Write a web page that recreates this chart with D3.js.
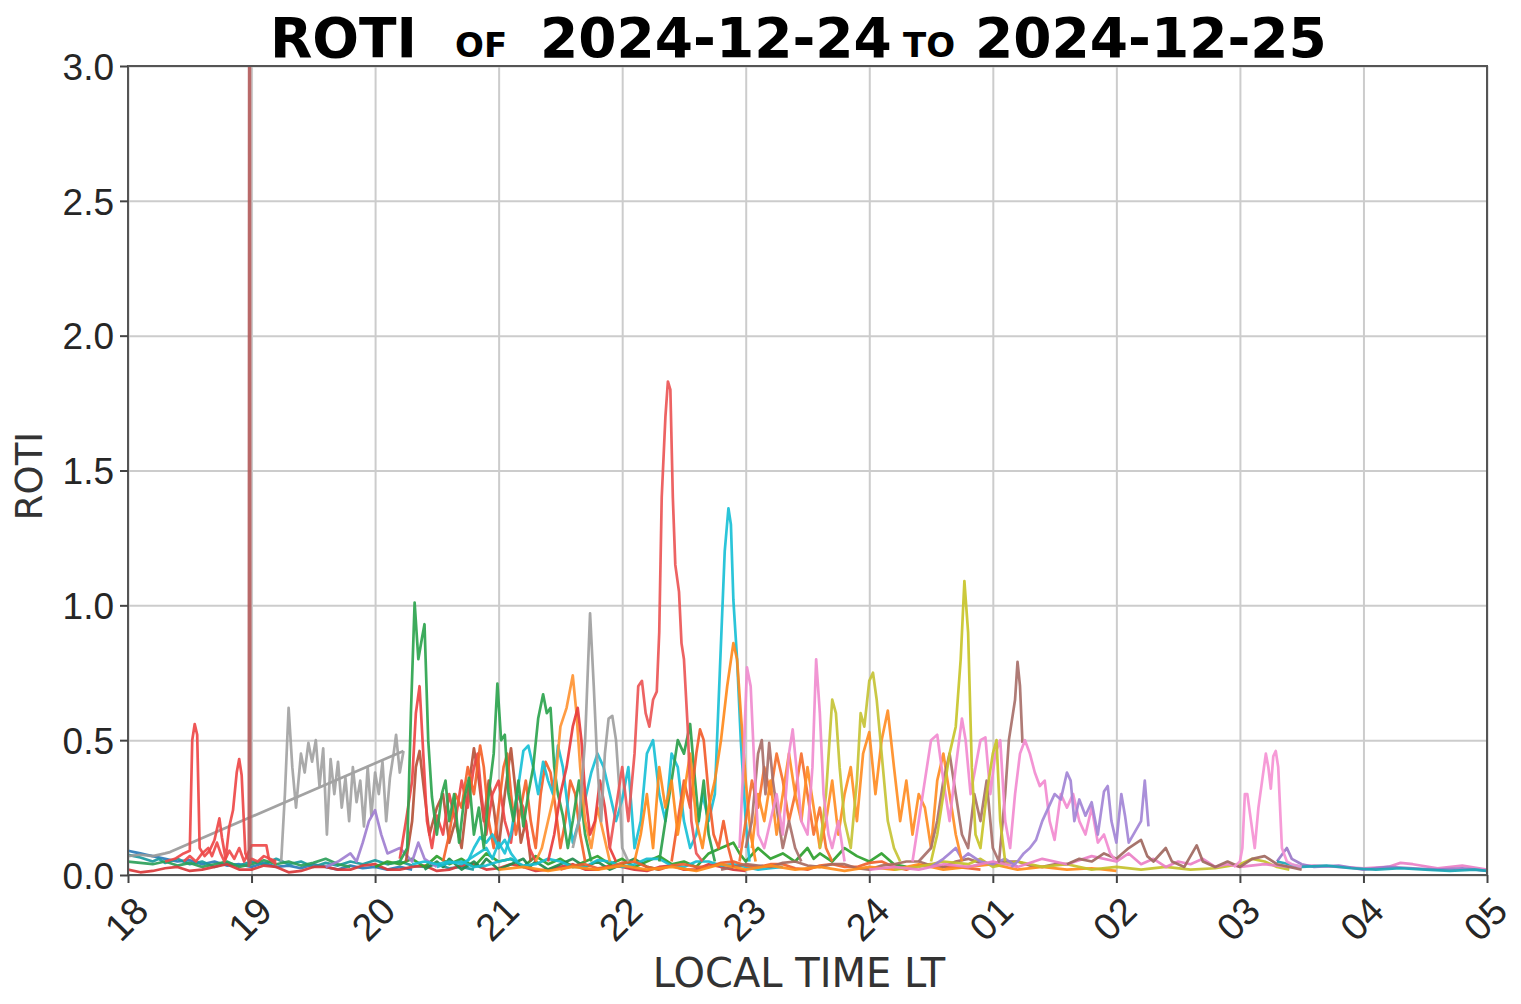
<!DOCTYPE html>
<html>
<head>
<meta charset="utf-8">
<script src="https://cdn.jsdelivr.net/npm/d3@7"></script>
<style>
body { margin: 0; background: #fff; }
svg { display: block; font-family: 'DejaVu Sans', sans-serif; }
</style>
</head>
<body>
<svg width="1521" height="1004"></svg>
<script>
// axis ticks
var xTicks = [18, 19, 20, 21, 22, 23, 24, 25, 26, 27, 28, 29]
var xTickLabels = ['18', '19', '20', '21', '22', '23', '24', '01', '02', '03', '04', '05']
var yTicks = [0, 0.5, 1.0, 1.5, 2.0, 2.5, 3.0]

// ROTI traces, [local hour, roti]
var baseBlue = [[18.0,0.09],[18.05,0.085],[18.1,0.08],[18.15,0.075],[18.2,0.07],[18.3,0.06],[18.4,0.05],[18.5,0.055],[18.6,0.04],[18.7,0.05],[18.8,0.035],[18.9,0.04],[19.0,0.03],[19.1,0.045],[19.2,0.03],[19.3,0.035],[19.4,0.025],[19.5,0.04],[19.6,0.03],[19.7,0.02],[19.8,0.035],[19.9,0.025],[20.0,0.03],[20.1,0.02],[20.2,0.03],[20.3,0.02]]
var baseTeal = [[18.0,0.075],[18.05,0.07],[18.1,0.065],[18.2,0.05],[18.25,0.06],[18.3,0.045],[18.4,0.06],[18.5,0.04],[18.6,0.05],[18.7,0.03],[18.8,0.045],[18.9,0.035],[19.0,0.05],[19.1,0.04],[19.2,0.06],[19.3,0.04],[19.4,0.05],[19.5,0.03],[19.6,0.045],[19.7,0.035],[19.8,0.05],[19.9,0.04],[20.0,0.055],[20.1,0.04],[20.2,0.05],[20.3,0.035],[20.4,0.03],[20.5,0.04],[20.6,0.025],[20.7,0.03],[20.8,0.02]]
var baseGreen = [[18.0,0.05],[18.1,0.045],[18.2,0.04],[18.3,0.05],[18.4,0.035],[18.5,0.045],[18.6,0.03],[18.7,0.04],[18.8,0.05],[18.9,0.03],[19.0,0.04],[19.1,0.055],[19.2,0.04],[19.3,0.05],[19.4,0.035],[19.5,0.045],[19.6,0.06],[19.7,0.04],[19.8,0.03]]
var baseRed = [[18.0,0.02],[18.1,0.01],[18.2,0.015],[18.3,0.025],[18.4,0.03],[18.5,0.015],[18.6,0.02],[18.7,0.03],[18.8,0.04],[18.9,0.02],[19.0,0.02],[19.1,0.035],[19.2,0.03],[19.3,0.01],[19.4,0.015],[19.5,0.03],[19.6,0.03],[19.7,0.02],[19.8,0.02],[19.9,0.035],[20.0,0.04],[20.1,0.02],[20.2,0.02],[20.3,0.03],[20.4,0.035],[20.5,0.015],[20.6,0.02],[20.7,0.035],[20.8,0.04],[20.9,0.02],[21.0,0.025],[21.1,0.04],[21.2,0.03],[21.3,0.015],[21.4,0.02],[21.5,0.03],[21.6,0.04],[21.7,0.02],[21.8,0.02],[21.9,0.035],[22.0,0.03],[22.1,0.02],[22.2,0.015],[22.3,0.03],[22.4,0.035],[22.5,0.02],[22.6,0.02],[22.7,0.04],[22.8,0.03],[22.9,0.02],[23.0,0.015]]
var baseGreen2 = [[20.0,0.03],[20.1,0.05],[20.2,0.04],[20.3,0.06],[20.4,0.03],[20.5,0.07],[20.6,0.04],[20.7,0.06],[20.8,0.03],[20.9,0.08],[21.0,0.05],[21.1,0.06],[21.2,0.03],[21.3,0.07],[21.4,0.04],[21.5,0.06],[21.6,0.03],[21.7,0.05],[21.8,0.07],[21.9,0.04],[22.0,0.06],[22.1,0.03],[22.2,0.05],[22.3,0.07],[22.4,0.04],[22.5,0.05],[22.6,0.03],[22.7,0.08],[22.8,0.1],[22.9,0.12],[22.95,0.08],[23.0,0.05],[23.1,0.1],[23.2,0.06],[23.3,0.08],[23.4,0.05],[23.5,0.1],[23.55,0.06],[23.6,0.08],[23.7,0.05],[23.8,0.1],[23.9,0.07],[24.0,0.05],[24.1,0.08],[24.2,0.04],[24.3,0.03]]
var baseGreen3 = [[20.4,0.02],[20.5,0.05],[20.55,0.03],[20.6,0.06],[20.65,0.04],[20.7,0.02],[20.8,0.05],[20.85,0.03],[20.9,0.06],[21.0,0.02],[21.1,0.04],[21.2,0.06],[21.25,0.03],[21.3,0.05],[21.4,0.02],[21.5,0.04],[21.6,0.06],[21.7,0.03],[21.8,0.05],[21.9,0.02],[22.0,0.04],[22.1,0.06],[22.2,0.03],[22.3,0.02]]
var baseCyan = [[20.5,0.03],[20.6,0.045],[20.7,0.05],[20.8,0.03],[20.9,0.035],[21.0,0.05],[21.1,0.06],[21.2,0.035],[21.3,0.04],[21.4,0.06],[21.5,0.05],[21.6,0.03],[21.7,0.03],[21.8,0.055],[21.9,0.05],[22.0,0.03],[22.1,0.04],[22.2,0.06],[22.3,0.06],[22.4,0.035],[22.5,0.03],[22.6,0.05],[22.7,0.05],[22.8,0.035],[22.9,0.04],[23.0,0.03],[23.1,0.02],[23.2,0.025],[23.3,0.03]]
var baseVerm = [[21.5,0.02],[21.6,0.035],[21.7,0.04],[21.8,0.025],[21.9,0.03],[22.0,0.045],[22.1,0.05],[22.2,0.03],[22.3,0.02],[22.4,0.035],[22.5,0.04],[22.6,0.03],[22.7,0.03],[22.8,0.045],[22.9,0.05],[23.0,0.035],[23.1,0.03],[23.2,0.04],[23.3,0.04],[23.4,0.025],[23.5,0.02],[23.6,0.035],[23.7,0.04],[23.8,0.03],[23.9,0.03],[24.0,0.045],[24.1,0.05],[24.2,0.03],[24.3,0.02],[24.4,0.035],[24.5,0.04],[24.6,0.03],[24.7,0.03],[24.8,0.025],[24.9,0.02]]
var baseBrown = [[22.8,0.02],[22.9,0.03],[23.0,0.04],[23.1,0.035],[23.2,0.03],[23.3,0.045],[23.4,0.05],[23.5,0.035],[23.6,0.03],[23.7,0.04],[23.8,0.04],[23.9,0.025],[24.0,0.02],[24.1,0.035],[24.2,0.04],[24.3,0.05],[24.4,0.05],[24.5,0.035],[24.6,0.03],[24.7,0.05],[24.8,0.06],[24.9,0.045],[25.0,0.04],[25.1,0.05],[25.2,0.05],[25.3,0.035],[25.4,0.03],[25.5,0.04],[25.6,0.04]]
var purpleLow = [[24.5,0.03],[24.6,0.06],[24.65,0.08],[24.7,0.1],[24.75,0.06],[24.8,0.08],[24.9,0.05],[25.0,0.04],[25.1,0.06],[25.2,0.03]]
var baseOrange = [[21.0,0.02],[21.2,0.03],[21.4,0.015],[21.6,0.03],[21.8,0.02],[22.0,0.035],[22.2,0.02],[22.4,0.03],[22.6,0.015],[22.8,0.04],[23.0,0.02],[23.2,0.035],[23.4,0.02],[23.6,0.03],[23.8,0.015],[24.0,0.03],[24.2,0.02],[24.4,0.04],[24.6,0.02],[24.8,0.03],[25.0,0.04],[25.2,0.02],[25.4,0.03],[25.6,0.02],[25.8,0.025],[26.0,0.015]]
var baseOlive = [[24.2,0.02],[24.4,0.03],[24.6,0.05],[24.8,0.04],[24.9,0.06],[25.0,0.03],[25.2,0.05],[25.4,0.03],[25.6,0.04],[25.8,0.02],[26.0,0.03],[26.2,0.02],[26.4,0.03],[26.6,0.02],[26.8,0.025],[27.0,0.04],[27.1,0.06],[27.2,0.05],[27.3,0.03],[27.4,0.02]]
var basePink = [[24.0,0.02],[24.2,0.03],[24.4,0.02],[24.6,0.04],[24.8,0.03],[25.0,0.05],[25.2,0.03],[25.4,0.06],[25.6,0.04],[25.8,0.07],[26.0,0.05],[26.1,0.08],[26.2,0.04],[26.3,0.06],[26.4,0.03],[26.5,0.05],[26.6,0.04],[26.7,0.06],[26.8,0.03],[26.9,0.04],[27.0,0.03],[27.2,0.04],[27.4,0.03],[27.6,0.035],[27.8,0.03],[28.0,0.025],[28.2,0.03],[28.3,0.045],[28.4,0.04],[28.6,0.025],[28.8,0.035],[29.0,0.02]]
var basePurple = [[27.3,0.05],[27.38,0.1],[27.42,0.06],[27.5,0.04],[27.6,0.03],[27.8,0.035],[28.0,0.02],[28.2,0.03],[28.4,0.025],[28.6,0.02],[28.8,0.025],[29.0,0.015]]
var baseTeal2 = [[27.3,0.05],[27.4,0.04],[27.5,0.03],[27.7,0.035],[27.9,0.025],[28.1,0.02],[28.3,0.025],[28.5,0.02],[28.7,0.015],[28.9,0.02],[29.0,0.015]]
var brownTail = [[25.6,0.04],[25.7,0.06],[25.8,0.05],[25.9,0.08],[26.0,0.06],[26.1,0.1],[26.2,0.13],[26.25,0.07],[26.3,0.05],[26.4,0.1],[26.45,0.05],[26.55,0.03],[26.65,0.11],[26.7,0.05],[26.8,0.03],[26.9,0.05],[27.0,0.03],[27.1,0.06],[27.2,0.07],[27.3,0.04],[27.5,0.02]]

var grayDiag = [[18.0,0.07],[18.1,0.075],[18.2,0.07],[18.3,0.08],[18.34,0.085],[20.23,0.46]]
var grayEarly = [[19.24,0.05],[19.27,0.3],[19.3,0.62],[19.33,0.4],[19.36,0.25],[19.4,0.45],[19.43,0.38],[19.46,0.49],[19.49,0.42],[19.52,0.5],[19.55,0.33],[19.58,0.47],[19.61,0.15],[19.64,0.43],[19.67,0.3],[19.7,0.42],[19.73,0.25],[19.76,0.36],[19.79,0.2],[19.82,0.4],[19.85,0.27],[19.88,0.35],[19.91,0.18],[19.94,0.4],[19.97,0.22],[20.0,0.38],[20.03,0.3],[20.06,0.42],[20.09,0.2],[20.12,0.36],[20.15,0.45],[20.17,0.52],[20.2,0.38],[20.23,0.46]]
var redEarly = [[18.3,0.05],[18.38,0.06],[18.45,0.08],[18.5,0.09],[18.52,0.5],[18.54,0.56],[18.56,0.52],[18.58,0.1],[18.62,0.07],[18.66,0.09],[18.7,0.13],[18.74,0.21],[18.76,0.14],[18.79,0.06],[18.82,0.18],[18.85,0.24],[18.88,0.38],[18.9,0.43],[18.92,0.37],[18.95,0.08],[18.98,0.05],[19.0,0.06],[19.05,0.05],[19.1,0.07],[19.2,0.05]]
var redZig = [[18.45,0.05],[18.5,0.07],[18.55,0.05],[18.6,0.08],[18.65,0.1],[18.68,0.07],[18.72,0.12],[18.75,0.08],[18.78,0.05],[18.82,0.09],[18.86,0.06],[18.9,0.1],[18.94,0.05],[19.0,0.11],[19.05,0.11],[19.12,0.11],[19.14,0.06],[19.2,0.04]]
var brownSpike = [[18.978,0.03],[18.981,3.4],[18.987,3.4],[18.99,0.04]]
var purpleEarly = [[19.6,0.03],[19.7,0.05],[19.8,0.08],[19.85,0.05],[19.9,0.12],[19.95,0.2],[20.0,0.24],[20.05,0.15],[20.1,0.08],[20.2,0.1],[20.3,0.05],[20.35,0.12],[20.4,0.06],[20.5,0.03]]
var greenA = [[20.1,0.04],[20.2,0.05],[20.26,0.1],[20.29,0.6],[20.32,1.01],[20.35,0.8],[20.38,0.88],[20.4,0.93],[20.43,0.5],[20.46,0.29],[20.5,0.15],[20.54,0.3],[20.57,0.35],[20.6,0.2],[20.64,0.3],[20.68,0.12],[20.72,0.28],[20.76,0.36],[20.8,0.15],[20.84,0.25],[20.88,0.1],[20.92,0.3],[20.96,0.45],[20.99,0.71],[21.02,0.5],[21.05,0.52],[21.08,0.3],[21.12,0.2],[21.16,0.35],[21.2,0.18],[21.24,0.3],[21.28,0.4],[21.32,0.58],[21.36,0.67],[21.39,0.6],[21.42,0.62],[21.45,0.4],[21.48,0.3],[21.52,0.22],[21.56,0.1],[21.6,0.2],[21.65,0.35],[21.7,0.15],[21.75,0.05]]
var redA = [[20.2,0.06],[20.25,0.2],[20.3,0.35],[20.33,0.6],[20.36,0.7],[20.39,0.45],[20.42,0.2],[20.46,0.1],[20.5,0.22],[20.55,0.15],[20.6,0.3],[20.65,0.2],[20.7,0.35],[20.75,0.25],[20.8,0.4],[20.83,0.45],[20.86,0.3],[20.9,0.15],[20.95,0.3],[21.0,0.35],[21.05,0.2],[21.1,0.12],[21.15,0.3],[21.2,0.25],[21.25,0.1],[21.3,0.05]]
var brownRed = [[20.25,0.05],[20.3,0.2],[20.33,0.4],[20.36,0.46],[20.4,0.3],[20.44,0.15],[20.5,0.25],[20.55,0.3],[20.6,0.12],[20.65,0.2],[20.7,0.1],[20.75,0.3],[20.8,0.47],[20.84,0.35],[20.88,0.2],[20.92,0.35],[20.96,0.25],[21.0,0.1],[21.05,0.3],[21.1,0.47],[21.14,0.3],[21.18,0.12],[21.22,0.2],[21.26,0.05]]
var vermA = [[20.55,0.05],[20.6,0.15],[20.65,0.3],[20.7,0.25],[20.75,0.4],[20.8,0.3],[20.85,0.48],[20.88,0.4],[20.92,0.2],[20.96,0.1],[21.0,0.25],[21.04,0.4],[21.07,0.45],[21.1,0.3],[21.14,0.15],[21.18,0.25],[21.22,0.35],[21.26,0.2],[21.3,0.1],[21.34,0.3],[21.38,0.42],[21.42,0.38],[21.46,0.25],[21.5,0.1],[21.54,0.2],[21.58,0.35],[21.62,0.3],[21.66,0.15],[21.7,0.05]]
var cyanB = [[20.75,0.05],[20.8,0.1],[20.85,0.14],[20.9,0.12],[20.95,0.15],[21.0,0.1],[21.05,0.13],[21.1,0.08],[21.15,0.05]]
var cyanA = [[20.3,0.04],[20.4,0.05],[20.5,0.04],[20.6,0.05],[20.7,0.04],[20.8,0.07],[20.9,0.1],[20.95,0.06],[21.0,0.12],[21.05,0.08],[21.1,0.15],[21.15,0.3],[21.2,0.46],[21.24,0.48],[21.28,0.4],[21.32,0.3],[21.36,0.42],[21.4,0.35],[21.44,0.3],[21.48,0.48],[21.52,0.4],[21.56,0.25],[21.6,0.12],[21.65,0.2],[21.7,0.28],[21.75,0.38],[21.8,0.45],[21.85,0.4],[21.9,0.3],[21.95,0.2],[22.0,0.28],[22.05,0.4],[22.1,0.1],[22.15,0.2],[22.2,0.45],[22.25,0.5],[22.3,0.3],[22.35,0.2],[22.4,0.45],[22.45,0.4],[22.5,0.2],[22.55,0.1],[22.6,0.15],[22.65,0.3],[22.7,0.2],[22.75,0.3],[22.79,0.75],[22.83,1.2],[22.86,1.36],[22.88,1.3],[22.9,1.02],[22.93,0.8],[22.96,0.5],[23.0,0.2],[23.03,0.05]]
var orangeA = [[21.3,0.05],[21.35,0.1],[21.4,0.2],[21.45,0.3],[21.5,0.55],[21.55,0.62],[21.6,0.74],[21.63,0.6],[21.66,0.4],[21.7,0.2],[21.75,0.1],[21.8,0.25],[21.85,0.15],[21.9,0.05]]
var redMid = [[21.4,0.05],[21.45,0.15],[21.5,0.3],[21.55,0.4],[21.6,0.55],[21.64,0.62],[21.67,0.5],[21.7,0.3],[21.74,0.15],[21.78,0.2],[21.82,0.35],[21.86,0.25],[21.9,0.1],[21.95,0.05]]
var grayMid = [[21.6,0.1],[21.65,0.2],[21.7,0.5],[21.74,0.97],[21.77,0.7],[21.8,0.4],[21.83,0.2],[21.86,0.45],[21.89,0.58],[21.92,0.59],[21.95,0.5],[21.98,0.3],[22.0,0.1],[22.05,0.05]]
var redBig = [[21.9,0.1],[21.95,0.25],[22.0,0.4],[22.05,0.2],[22.1,0.45],[22.13,0.7],[22.16,0.72],[22.19,0.6],[22.22,0.55],[22.25,0.65],[22.28,0.68],[22.3,0.9],[22.32,1.4],[22.35,1.7],[22.37,1.83],[22.39,1.8],[22.41,1.4],[22.43,1.15],[22.46,1.05],[22.48,0.86],[22.5,0.8],[22.53,0.55],[22.56,0.2],[22.6,0.08],[22.65,0.05]]
var greenB = [[22.3,0.05],[22.35,0.2],[22.4,0.35],[22.45,0.5],[22.5,0.45],[22.55,0.56],[22.58,0.4],[22.62,0.2],[22.66,0.35],[22.7,0.15],[22.75,0.05]]
var vermB = [[22.4,0.05],[22.45,0.2],[22.5,0.35],[22.55,0.25],[22.6,0.45],[22.63,0.54],[22.66,0.5],[22.7,0.3],[22.74,0.15],[22.78,0.1],[22.82,0.2],[22.86,0.1],[22.9,0.03]]
var orangeB = [[22.1,0.05],[22.15,0.15],[22.2,0.3],[22.25,0.1],[22.3,0.4],[22.35,0.25],[22.4,0.35],[22.45,0.15],[22.5,0.3],[22.55,0.45],[22.6,0.2],[22.65,0.1],[22.7,0.25],[22.75,0.35],[22.8,0.5],[22.85,0.7],[22.9,0.86],[22.93,0.8],[22.96,0.6],[23.0,0.35],[23.04,0.15],[23.08,0.05]]
var vermC = [[22.95,0.05],[23.0,0.2],[23.05,0.35],[23.1,0.25],[23.15,0.4],[23.2,0.3],[23.25,0.45],[23.3,0.35],[23.35,0.2],[23.4,0.3],[23.45,0.45],[23.5,0.3],[23.55,0.15],[23.6,0.25],[23.65,0.1],[23.7,0.05]]
var pinkA = [[22.95,0.1],[22.98,0.4],[23.01,0.77],[23.04,0.7],[23.07,0.4],[23.1,0.15],[23.15,0.1],[23.2,0.2],[23.25,0.3],[23.3,0.15],[23.35,0.45],[23.38,0.54],[23.41,0.4],[23.45,0.2],[23.5,0.15],[23.54,0.4],[23.57,0.8],[23.6,0.6],[23.63,0.3],[23.67,0.15],[23.7,0.1],[23.75,0.2],[23.8,0.05]]
var brownA = [[23.0,0.1],[23.05,0.2],[23.1,0.45],[23.13,0.5],[23.16,0.3],[23.19,0.49],[23.22,0.35],[23.25,0.25],[23.3,0.1],[23.35,0.2],[23.4,0.1],[23.45,0.05]]
var orangeC = [[23.05,0.1],[23.1,0.3],[23.15,0.2],[23.2,0.35],[23.25,0.15],[23.3,0.3],[23.35,0.45],[23.4,0.3],[23.45,0.2],[23.5,0.4],[23.55,0.25],[23.6,0.1],[23.65,0.2],[23.7,0.35],[23.75,0.15],[23.8,0.3],[23.85,0.4],[23.9,0.2],[23.95,0.45],[24.0,0.53],[24.05,0.3],[24.1,0.5],[24.15,0.61],[24.2,0.4],[24.25,0.2],[24.3,0.35],[24.35,0.15],[24.4,0.3],[24.45,0.25],[24.5,0.1],[24.55,0.35],[24.6,0.45],[24.65,0.3],[24.7,0.15],[24.75,0.05]]
var oliveA = [[23.6,0.1],[23.65,0.3],[23.7,0.65],[23.73,0.6],[23.76,0.4],[23.8,0.2],[23.85,0.1],[23.9,0.35],[23.93,0.6],[23.96,0.55],[24.0,0.72],[24.03,0.75],[24.06,0.65],[24.1,0.45],[24.15,0.2],[24.2,0.1],[24.25,0.05]]
var brownB = [[24.4,0.05],[24.5,0.1],[24.55,0.2],[24.6,0.35],[24.65,0.45],[24.7,0.3],[24.75,0.15],[24.8,0.1],[24.85,0.3],[24.9,0.2],[24.95,0.35],[25.0,0.1],[25.05,0.05],[25.1,0.3],[25.13,0.5],[25.16,0.59],[25.18,0.65],[25.2,0.79],[25.22,0.7],[25.24,0.49]]
var pinkB = [[24.35,0.05],[24.4,0.2],[24.45,0.35],[24.5,0.5],[24.55,0.52],[24.6,0.35],[24.65,0.2],[24.7,0.4],[24.75,0.58],[24.78,0.5],[24.82,0.3],[24.86,0.4],[24.9,0.5],[24.94,0.51],[24.98,0.3],[25.02,0.45],[25.06,0.5],[25.1,0.2],[25.14,0.1],[25.18,0.3],[25.22,0.45],[25.26,0.5],[25.3,0.45],[25.34,0.38],[25.38,0.33],[25.42,0.35],[25.46,0.2],[25.5,0.13],[25.55,0.3],[25.6,0.25],[25.65,0.3],[25.7,0.2],[25.75,0.15],[25.8,0.25],[25.85,0.12],[25.9,0.15],[25.95,0.08],[26.0,0.05]]
var oliveB = [[24.5,0.05],[24.55,0.15],[24.6,0.3],[24.65,0.45],[24.7,0.55],[24.74,0.8],[24.77,1.09],[24.8,0.9],[24.83,0.4],[24.86,0.15],[24.9,0.1],[24.95,0.3],[25.0,0.45],[25.03,0.5],[25.06,0.2],[25.1,0.05]]
var purpleA = [[25.15,0.03],[25.2,0.05],[25.25,0.08],[25.3,0.1],[25.35,0.13],[25.4,0.2],[25.45,0.25],[25.5,0.3],[25.55,0.28],[25.6,0.38],[25.63,0.35],[25.66,0.2],[25.7,0.28],[25.75,0.22],[25.8,0.27],[25.85,0.15],[25.9,0.31],[25.93,0.33],[25.96,0.2],[26.0,0.12],[26.04,0.3],[26.07,0.22],[26.1,0.12],[26.15,0.16],[26.2,0.2],[26.23,0.35],[26.26,0.18]]
var pinkC = [[26.95,0.03],[27.0,0.05],[27.02,0.1],[27.04,0.3],[27.06,0.3],[27.09,0.2],[27.12,0.1],[27.15,0.25],[27.18,0.35],[27.21,0.45],[27.23,0.4],[27.25,0.32],[27.27,0.44],[27.29,0.46],[27.31,0.4],[27.34,0.1],[27.38,0.05],[27.42,0.04],[27.5,0.03]]

var traces = [
    [baseBlue, '#2b7bb9'], [baseTeal, '#1a9a9e'], [baseGreen, '#2ca05a'], [baseRed, '#d9383a'],
    [baseGreen2, '#2ca02c'], [baseGreen3, '#1f8a4c'], [baseCyan, '#17bcd0'], [baseVerm, '#f0602c'],
    [baseBrown, '#a86a60'], [baseOrange, '#ff8c1a'], [baseOlive, '#c4c12a'], [purpleLow, '#9f80d2'],
    [basePink, '#ea7fc6'], [basePurple, '#9a78c8'], [baseTeal2, '#1aa6b5'], [brownTail, '#a0685f'],
    [grayDiag, '#9a9a9a'], [grayEarly, '#a3a3a3'], [redZig, '#ee4a4a'], [redEarly, '#ee4848'],
    [purpleEarly, '#a07fd0'], [brownRed, '#b5533a'], [redA, '#ee4545'], [vermA, '#f4622a'],
    [cyanB, '#19c0d6'], [cyanA, '#19c0d6'], [greenA, '#2da44e'], [orangeA, '#ff9433'], [redMid, '#e83c3c'],
    [grayMid, '#a0a0a0'], [greenB, '#2ca04c'], [vermB, '#f25c2b'], [orangeB, '#ff8a1c'],
    [redBig, '#ec5656'], [vermC, '#f5702e'], [brownA, '#a9706a'], [orangeC, '#ff8d24'], [oliveA, '#c6c336'],
    [pinkA, '#f08ccf'], [brownB, '#a8706a'], [pinkB, '#f28bd0'], [oliveB, '#c8c42a'],
    [purpleA, '#a385d6'], [pinkC, '#f592d4'], [brownSpike, '#b35c5c']
]

var svg = d3.select('svg')
var plotL = 128, plotR = 1487, plotT = 66, plotB = 875

var x = d3.scaleLinear().domain([18, 29]).range([plotL, plotR])
var y = d3.scaleLinear().domain([0, 3]).range([plotB, plotT])

// grid
svg.append('g')
    .attr('transform', 'translate(0,' + plotB + ')')
    .call(d3.axisBottom(x).tickValues(xTicks).tickSize(-(plotB - plotT)).tickFormat(''))
    .call(g => g.select('.domain').remove())
    .selectAll('line')
    .style('stroke', '#cccccc')
    .style('stroke-width', 2)
svg.append('g')
    .attr('transform', 'translate(' + plotL + ',0)')
    .call(d3.axisLeft(y).tickValues(yTicks).tickSize(-(plotR - plotL)).tickFormat(''))
    .call(g => g.select('.domain').remove())
    .selectAll('line')
    .style('stroke', '#cccccc')
    .style('stroke-width', 2)

svg.append('clipPath')
    .attr('id', 'plot')
    .append('rect')
    .attr('x', plotL)
    .attr('y', plotT)
    .attr('width', plotR - plotL)
    .attr('height', plotB - plotT)

var line = d3.line()
    .x(d => x(d[0]))
    .y(d => y(d[1]))

svg.append('g')
    .attr('clip-path', 'url(#plot)')
    .selectAll('path')
    .data(traces)
    .join('path')
    .attr('d', d => line(d[0]))
    .style('fill', 'none')
    .style('stroke', d => d[1])
    .style('stroke-width', 2.7)
    .style('stroke-linejoin', 'round')
    .style('opacity', 0.92)

// frame
svg.append('rect')
    .attr('x', plotL)
    .attr('y', plotT)
    .attr('width', plotR - plotL)
    .attr('height', plotB - plotT)
    .style('fill', 'none')
    .style('stroke', '#555')
    .style('stroke-width', 2)

// axes
var yAxis = svg.append('g')
    .attr('transform', 'translate(' + plotL + ',0)')
    .call(d3.axisLeft(y).tickValues(yTicks).tickFormat(d3.format('.1f')).tickSize(8).tickPadding(6))
yAxis.select('.domain').remove()
yAxis.selectAll('line').style('stroke', '#444').style('stroke-width', 2)
yAxis.selectAll('text')
    .style('font-size', '37px')
    .style('fill', '#262626')
    .attr('dy', '0.36em')

var xAxis = svg.append('g')
    .attr('transform', 'translate(0,' + plotB + ')')
    .call(d3.axisBottom(x).tickValues(xTicks).tickFormat((d, i) => xTickLabels[i]).tickSize(8))
xAxis.select('.domain').remove()
xAxis.selectAll('line').style('stroke', '#444').style('stroke-width', 2)
xAxis.selectAll('text')
    .attr('y', 0)
    .attr('dy', 0)
    .attr('transform', 'translate(-2,44) rotate(-45)')
    .attr('text-anchor', 'middle')
    .attr('dominant-baseline', 'central')
    .style('font-size', '38px')
    .style('fill', '#262626')

// labels
svg.append('text')
    .attr('x', 799)
    .attr('y', 987)
    .attr('text-anchor', 'middle')
    .style('font-size', '40px')
    .style('fill', '#333')
    .text('LOCAL TIME LT')

svg.append('text')
    .attr('transform', 'translate(42,476) rotate(-90)')
    .attr('text-anchor', 'middle')
    .style('font-size', '37px')
    .style('fill', '#333')
    .text('ROTI')

// title
var title = [
    ['ROTI', 270, 55],
    ['OF', 455, 34],
    ['2024-12-24', 540, 55],
    ['TO', 903, 34],
    ['2024-12-25', 975, 55]
]
svg.append('g')
    .selectAll('text')
    .data(title)
    .join('text')
    .attr('x', d => d[1])
    .attr('y', 57)
    .style('font-size', d => d[2] + 'px')
    .style('font-weight', 'bold')
    .style('fill', '#000')
    .text(d => d[0])
</script>
</body>
</html>
